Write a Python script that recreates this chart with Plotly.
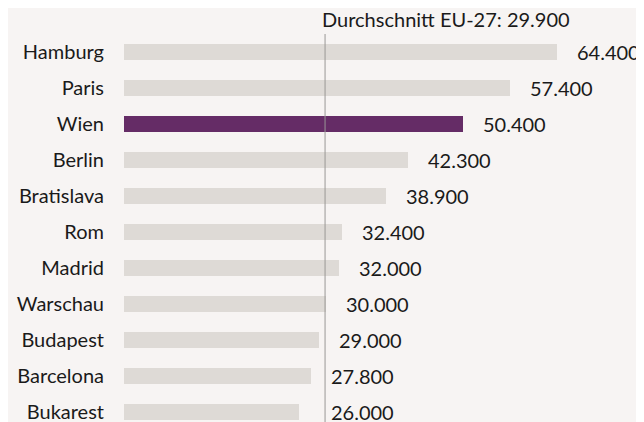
import plotly.graph_objects as go

cities = ["Hamburg", "Paris", "Wien", "Berlin", "Bratislava", "Rom", "Madrid",
          "Warschau", "Budapest", "Barcelona", "Bukarest"]
values = [64400, 57400, 50400, 42300, 38900, 32400, 32000, 30000, 29000, 27800, 26000]
value_labels = ["64.400", "57.400", "50.400", "42.300", "38.900", "32.400", "32.000",
                "30.000", "29.000", "27.800", "26.000"]
highlight = "Wien"
eu_avg = 29900
eu_label = "Durchschnitt EU-27: 29.900"

FONT = "Lato"
FS = 20
BG = "#f7f4f3"
BAR = "#dedad6"
HL = "#652c66"
TXT = "#1a1a1a"

ypos = list(range(len(cities)))
colors = [HL if c == highlight else BAR for c in cities]

fig = go.Figure()
fig.add_trace(go.Bar(
    x=values, y=ypos, orientation="h", marker=dict(color=colors, line=dict(width=0)),
    width=0.44, hoverinfo="skip", showlegend=False,
))

fig.add_shape(type="line", x0=eu_avg, x1=eu_avg, xref="x", yref="paper", y0=0, y1=1.0,
              line=dict(color="#9a9896", width=1))
fig.add_annotation(x=eu_avg, y=1.0, xref="x", yref="paper", text=eu_label, showarrow=False,
                   xanchor="left", yanchor="bottom", xshift=-5, yshift=1,
                   font=dict(family=FONT, size=FS, color=TXT))

for i, (v, lab) in enumerate(zip(values, value_labels)):
    lx = max(v, eu_avg - 2100)
    fig.add_annotation(x=lx, y=i, xref="x", yref="y", text=lab, showarrow=False,
                       xanchor="left", yanchor="middle", xshift=18,
                       font=dict(family=FONT, size=FS, color=TXT))

fig.update_layout(
    width=644, height=422,
    margin=dict(l=116, r=0, t=26, b=0),
    paper_bgcolor=BG, plot_bgcolor=BG,
    font=dict(family=FONT, size=FS, color=TXT),
    xaxis=dict(range=[0, 78525], visible=False, fixedrange=True),
    yaxis=dict(range=[10.5, -0.5], tickvals=ypos, ticktext=cities, showgrid=False,
               zeroline=False, showline=False, ticks="", ticklabelstandoff=19,
               tickfont=dict(family=FONT, size=FS, color=TXT)),
    bargap=0,
)

fig.write_html("out.html")
